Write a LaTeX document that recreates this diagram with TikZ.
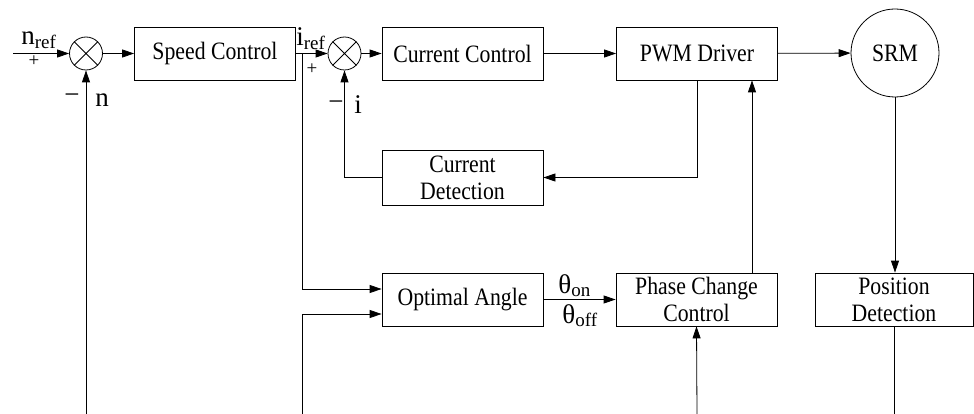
\documentclass[tikz,border=0pt]{standalone}
\usepackage{fontspec}
\setmainfont{Liberation Serif}
\newfontfamily\blkfont[FakeStretch=0.87]{Liberation Serif}
\usetikzlibrary{arrows.meta}
\newcommand{\lowsub}[1]{\raisebox{-0.3ex}{\fontsize{19}{19}\selectfont #1}}
\begin{document}
\begin{tikzpicture}[x=1pt,y=-1pt,
  line width=0.8pt,
  blk/.style={draw, minimum width=161pt, minimum height=53pt, inner sep=0pt, align=center, font=\blkfont\fontsize{25}{27}\selectfont},
  sumj/.style={draw, circle, minimum size=33pt, inner sep=0pt},
  arr/.style={-{Triangle[length=12pt,width=8pt]}},
  lbl/.style={font=\fontsize{27}{28}\selectfont, inner sep=0pt, anchor=base west},
  sml/.style={font=\fontsize{19}{19}\selectfont, inner sep=0pt}]
\useasboundingbox (0,0) rectangle (974,414);
% blocks
\node[sumj] (s1) at (86,53.5) {};
\draw (s1.45) -- (s1.225) (s1.135) -- (s1.-45);
\node[blk] (sc) at (215,53.5) {Speed Control};
\node[sumj] (s2) at (344.5,53.5) {};
\draw (s2.45) -- (s2.225) (s2.135) -- (s2.-45);
\node[blk] (cc) at (462.5,53.5) {Current Control};
\node[blk] (pwm) at (697,53.5) {PWM Driver};
\node[draw, circle, minimum size=88pt, inner sep=0pt, font=\blkfont\fontsize{25}{27}\selectfont] (srm) at (895,53) {SRM};
\node[blk, minimum height=55pt] (cd) at (462.5,177.5) {Current\\Detection};
\node[blk] (oa) at (462.5,299.5) {Optimal Angle};
\node[blk] (pcc) at (696.5,299.5) {Phase Change\\Control};
\node[blk, minimum width=158pt] (pd) at (894,299.5) {Position\\Detection};
% coordinates
\coordinate (in) at (13,53.5);
\coordinate (b1) at (302,53.5);
\coordinate (bot1) at (86,414);
\coordinate (bot2) at (302,414);
\coordinate (bot3) at (697,414);
\coordinate (bot4) at (894,414);
% connectors
\draw[arr] (in) -- (s1);
\draw[arr] (s1) -- (sc);
\draw[arr] (sc) -- (s2);
\draw[arr] (s2) -- (cc);
\draw[arr] (cc) -- (pwm);
\draw[arr] (pwm) -- (srm);
\draw[arr] (bot1) -- (s1.south);
\draw[arr] (pwm.south) |- (cd.east);
\draw[arr] (cd.west) -| (s2.south);
\draw[arr] (b1) |- ([yshift=10.5pt]oa.west);
\draw[arr] (bot2) |- ([yshift=-14.5pt]oa.west);
\draw[arr] (oa) -- (pcc);
\draw[arr] ([xshift=55.5pt]pcc.north) -- ([xshift=55.5pt]pcc.north |- pwm.south);
\draw[arr] (bot3) -- (pcc.south);
\draw[arr] (srm.south) -- (srm.south |- pd.north);
\draw (pd.south) -- (bot4);
% labels
\node[lbl] (lnref) at (21,45) {n\lowsub{ref}};
\node[sml] (lp1) at (34,61) {+};
\node[lbl, anchor=center] (lm1) at (72,99) {−};
\node[lbl] (ln) at (95,107) {n};
\node[lbl] (liref) at (296,46) {i\lowsub{ref}};
\node[sml] (lp2) at (312,69) {+};
\node[lbl, anchor=center] (lm2) at (336,106) {−};
\node[lbl] (li) at (354,114) {i};
\node[lbl] (lton) at (558,293) {θ\lowsub{on}};
\node[lbl] (ltoff) at (562,323) {θ\lowsub{off}};
\end{tikzpicture}
\end{document}
